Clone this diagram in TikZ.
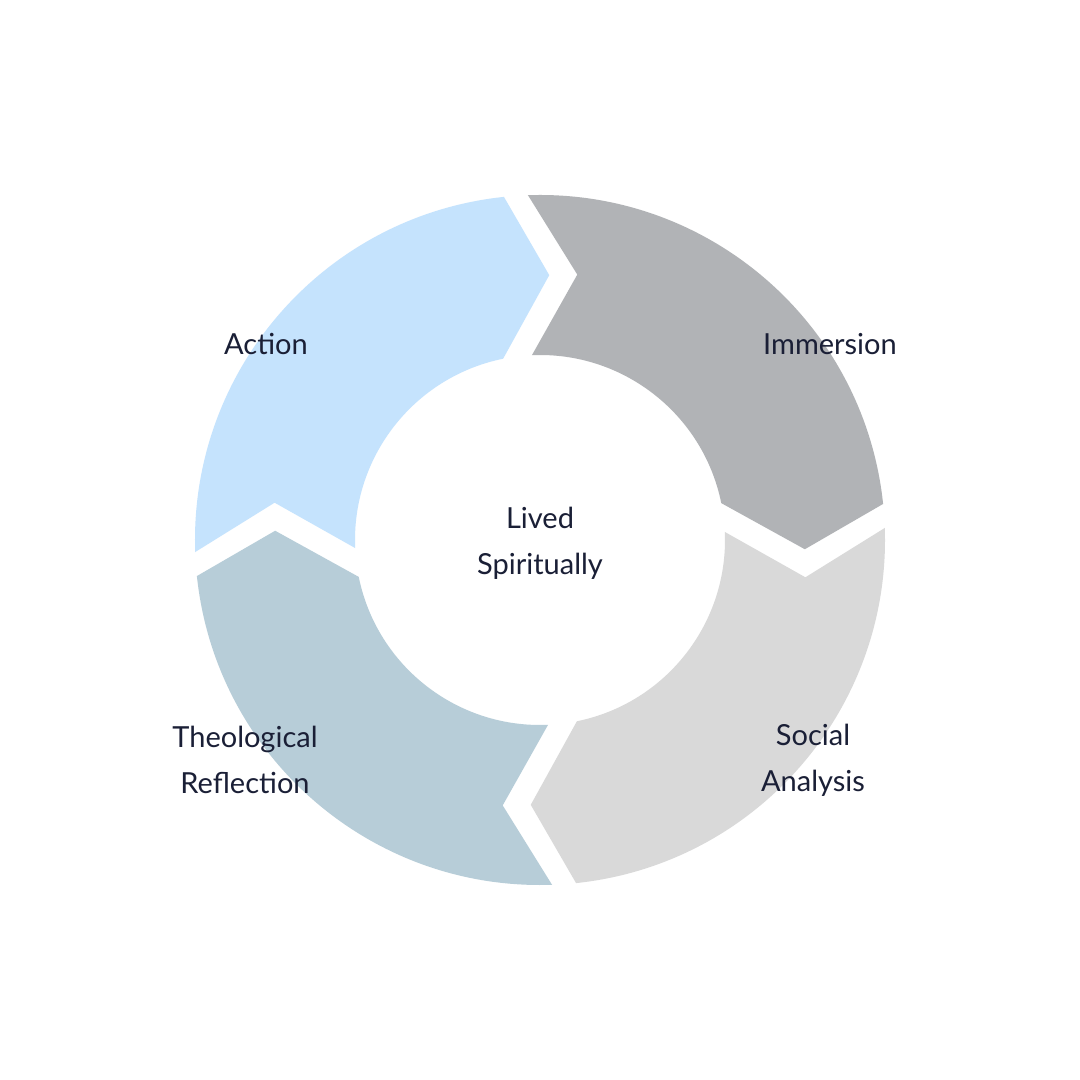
\documentclass[tikz,border=0pt]{standalone}
\usepackage{fontspec}
\setmainfont{Lato}
\definecolor{cImm}{HTML}{B1B3B6}
\definecolor{cSoc}{HTML}{D9D9D9}
\definecolor{cThe}{HTML}{B7CDD8}
\definecolor{cAct}{HTML}{C5E3FD}
\definecolor{ink}{HTML}{1A1F36}
\begin{document}
\begin{tikzpicture}[x=1pt,y=1pt,lbl/.style={text=ink,font=\fontsize{29}{46}\selectfont,align=center}]
\useasboundingbox (0,0) rectangle (1080,1080);
\fill[white] (0,0) rectangle (1080,1080);
\begin{scope}[shift={(540,540)}]
\foreach \r/\c in {0/cImm,-90/cSoc,-180/cThe,90/cAct}{
  \fill[\c] (\r+92:345) arc[start angle=\r+92,end angle=\r+6,radius=345]
    -- (\r-2:265) -- (\r+11.5:185)
    arc[start angle=\r+11.5,end angle=\r+92.5,radius=185]
    -- (\r+82:268) -- cycle;
}
\end{scope}
\node[lbl] (act) at (266,736) {Action};
\node[lbl] (imm) at (830,736) {Immersion};
\node[lbl] (mid) at (540,537) {Lived\\Spiritually};
\node[lbl] (the) at (245,320) {Theological\\Reflection};
\node[lbl] (soc) at (813,320) {Social\\Analysis};
\end{tikzpicture}
\end{document}
